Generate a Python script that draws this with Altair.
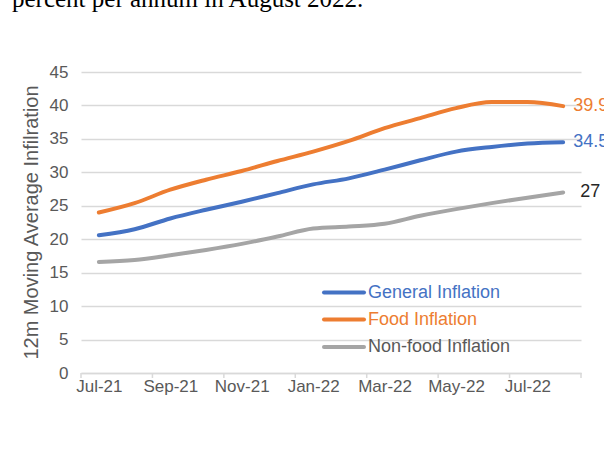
import json
import altair as alt
import pandas as pd

months = ["Jul-21", "Aug-21", "Sep-21", "Oct-21", "Nov-21", "Dec-21", "Jan-22",
          "Feb-22", "Mar-22", "Apr-22", "May-22", "Jun-22", "Jul-22", "Aug-22"]
general = [20.6, 21.5, 23.1, 24.4, 25.6, 26.9, 28.2, 29.1, 30.4, 31.8, 33.1, 33.8, 34.3, 34.5]
food = [24.0, 25.4, 27.4, 28.9, 30.2, 31.7, 33.1, 34.7, 36.6, 38.1, 39.6, 40.5, 40.5, 39.9]
nonfood = [16.6, 16.9, 17.6, 18.4, 19.3, 20.4, 21.6, 21.9, 22.3, 23.5, 24.5, 25.4, 26.2, 27.0]
series = ["General Inflation", "Food Inflation", "Non-food Inflation"]
colors = ["#4472C4", "#ED7D31", "#A5A5A5"]
legend_text_colors = ["#4472C4", "#ED7D31", "#595959"]
y_ticks = list(range(0, 46, 5))
x_label_idx = list(range(0, len(months), 2))
tick_pos = [i - 0.5 for i in range(0, len(months) + 1, 2)]
y_title = "12m Moving Average Infilration"
top_text = "percent per annum in August 2022."

rows = []
for name, vals in zip(series, [general, food, nonfood]):
    for i, (m, v) in enumerate(zip(months, vals)):
        rows.append({"idx": i, "month": m, "series": name, "value": v})
df = pd.DataFrame(rows)

FONT = "Liberation Sans"
GRID = "#d9d9d9"
LAB = "#595959"
W, H = 500, 301

xscale = alt.Scale(domain=[-0.5, len(months) - 0.5], nice=False, zero=False)
yscale = alt.Scale(domain=[0, 45], nice=False)

xaxis = alt.Axis(values=x_label_idx,
                 labelExpr=f"{json.dumps(months)}[datum.value]",
                 ticks=False, grid=False, domainColor=GRID, domainWidth=1.5,
                 labelFont=FONT, labelFontSize=17, labelColor=LAB,
                 labelPadding=5, labelOverlap=False, title=None)
yaxis = alt.Axis(values=y_ticks, grid=True, gridColor=GRID, gridWidth=1.5,
                 domain=False, ticks=False, labelPadding=13,
                 labelOverlap=False, labelFlush=False,
                 labelFont=FONT, labelFontSize=17, labelColor=LAB,
                 title=y_title, titleFont=FONT, titleFontSize=20,
                 titleFontWeight="normal", titleColor=LAB,
                 titleAngle=270, titleX=-50, titleY=150,
                 titleAlign="center", titleBaseline="middle")
cscale = alt.Scale(domain=series, range=colors)

X = alt.X("idx:Q", scale=xscale, axis=xaxis)
Y = alt.Y("value:Q", scale=yscale, axis=yaxis)

lines = alt.Chart(df).mark_line(strokeWidth=4, strokeCap="round", interpolate="monotone").encode(
    x=X, y=Y,
    color=alt.Color("series:N", scale=cscale, legend=None),
    detail="series:N",
)

ticks = alt.Chart(pd.DataFrame({"idx": tick_pos})).mark_rule(
    color=GRID, strokeWidth=1.5).encode(
    x=X, y=alt.value(H), y2=alt.value(H + 5))

last = df[df["idx"] == len(months) - 1]
end_labels_a = alt.Chart(last[last["series"] != series[2]]).mark_text(
    align="left", baseline="middle", dx=10, font=FONT, fontSize=18).encode(
    x=X, y=Y,
    text=alt.Text("value:Q", format=".1f"),
    color=alt.Color("series:N", scale=cscale, legend=None))
end_labels_b = alt.Chart(last[last["series"] == series[2]]).mark_text(
    align="left", baseline="middle", dx=17, font=FONT, fontSize=18, color="#262626").encode(
    x=X, y=Y,
    text=alt.Text("value:Q", format="d"))

legend_layers = []
leg_y = [220.5, 247.5, 275]
for name, c, tc, yy in zip(series, colors, legend_text_colors, leg_y):
    d = pd.DataFrame({"name": [name]})
    legend_layers.append(alt.Chart(d).mark_rule(color=c, strokeWidth=4, strokeCap="round").encode(
        x=alt.value(243), x2=alt.value(283), y=alt.value(yy)))
    legend_layers.append(alt.Chart(d).mark_text(
        align="left", baseline="middle", font=FONT, fontSize=18, color=tc).encode(
        text="name:N", x=alt.value(287), y=alt.value(yy)))

top = alt.Chart(pd.DataFrame({"t": [top_text]})).mark_text(
    align="left", baseline="alphabetic", font="Liberation Serif", fontSize=25,
    color="black").encode(text="t:N", x=alt.value(-69), y=alt.value(-65.5))

chart = alt.layer(lines, ticks, end_labels_a, end_labels_b, *legend_layers, top).properties(
    width=W, height=H,
    autosize=alt.AutoSizeParams(type="none"),
    padding={"left": 81, "top": 72, "right": 23, "bottom": 95},
    background="white",
).configure_view(stroke=None)

chart.save("out.html", embed_options={"renderer": "svg", "actions": False})
